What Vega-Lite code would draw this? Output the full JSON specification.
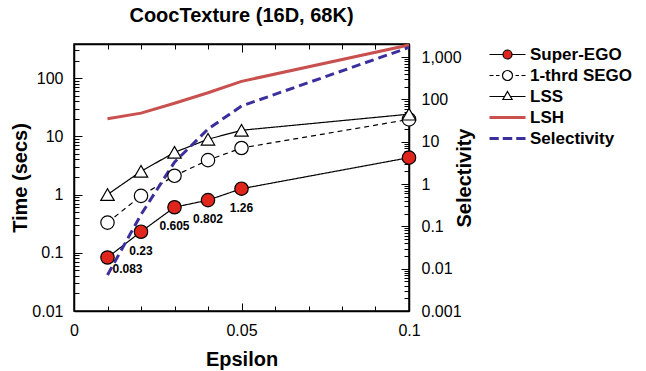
{
  "$schema": "https://vega.github.io/schema/vega-lite/v6.json",
  "width": 335,
  "height": 267,
  "autosize": {"type": "none"},
  "padding": {"left": 74, "top": 44, "right": 237, "bottom": 60},
  "background": "white",
  "config": {
    "view": {"stroke": "black", "strokeWidth": 1.5},
    "font": "Liberation Sans",
    "title": {"font": "Liberation Sans", "fontSize": 20, "fontWeight": "bold", "color": "black"},
    "axis": {"domainColor": "black", "domainWidth": 1.5, "tickColor": "black", "labelColor": "black", "titleColor": "black", "labelFont": "Liberation Sans", "titleFont": "Liberation Sans", "labelFontSize": 16, "titleFontSize": 20, "titleFontWeight": "bold", "grid": false, "labelOverlap": false, "labelFlush": false, "labelBound": false}
  },
  "title": {"text": "CoocTexture (16D, 68K)", "font": "Liberation Sans", "fontSize": 20, "fontWeight": "bold", "anchor": "middle", "offset": 10, "color": "black"},
  "datasets": {
    "time": [
      {"series": "Super-EGO", "eps": 0.01, "value": 0.083},
      {"series": "Super-EGO", "eps": 0.02, "value": 0.23},
      {"series": "Super-EGO", "eps": 0.03, "value": 0.605},
      {"series": "Super-EGO", "eps": 0.04, "value": 0.802},
      {"series": "Super-EGO", "eps": 0.05, "value": 1.26},
      {"series": "Super-EGO", "eps": 0.1, "value": 4.3},
      {"series": "1-thrd SEGO", "eps": 0.01, "value": 0.33},
      {"series": "1-thrd SEGO", "eps": 0.02, "value": 0.95},
      {"series": "1-thrd SEGO", "eps": 0.03, "value": 2.1},
      {"series": "1-thrd SEGO", "eps": 0.04, "value": 3.9},
      {"series": "1-thrd SEGO", "eps": 0.05, "value": 6.3},
      {"series": "1-thrd SEGO", "eps": 0.1, "value": 19.5},
      {"series": "LSS", "eps": 0.01, "value": 1.0},
      {"series": "LSS", "eps": 0.02, "value": 2.5},
      {"series": "LSS", "eps": 0.03, "value": 5.3},
      {"series": "LSS", "eps": 0.04, "value": 8.9},
      {"series": "LSS", "eps": 0.05, "value": 12.7},
      {"series": "LSS", "eps": 0.1, "value": 24},
      {"series": "LSH", "eps": 0.01, "value": 20},
      {"series": "LSH", "eps": 0.02, "value": 25},
      {"series": "LSH", "eps": 0.03, "value": 37},
      {"series": "LSH", "eps": 0.04, "value": 56},
      {"series": "LSH", "eps": 0.05, "value": 88},
      {"series": "LSH", "eps": 0.1, "value": 370}
    ],
    "sel": [
      {"series": "Selectivity", "eps": 0.01, "value": 0.0071},
      {"series": "Selectivity", "eps": 0.02, "value": 0.19},
      {"series": "Selectivity", "eps": 0.03, "value": 3.3},
      {"series": "Selectivity", "eps": 0.04, "value": 20},
      {"series": "Selectivity", "eps": 0.05, "value": 70},
      {"series": "Selectivity", "eps": 0.1, "value": 1700}
    ]
  },
  "resolve": {"scale": {"y": "independent"}, "axis": {"x": "independent", "y": "independent"}},
  "layer": [
    {
      "data": {"name": "time"},
      "transform": [{"filter": {"field": "series", "oneOf": ["Super-EGO", "1-thrd SEGO", "LSS"]}}],
      "mark": {"type": "line", "strokeWidth": 1.2},
      "encoding": {
        "x": {"field": "eps", "type": "quantitative", "scale": {"domain": [0, 0.1], "nice": false, "zero": false},
          "axis": {"orient": "bottom", "title": "Epsilon", "values": [0, 0.01, 0.02, 0.03, 0.04, 0.05, 0.06, 0.07, 0.08, 0.09, 0.1],
            "labelExpr": "abs(datum.value*20 - round(datum.value*20)) < 0.000001 ? format(datum.value, '~g') : ''",
            "tickSize": {"condition": {"test": "abs(datum.value*20 - round(datum.value*20)) < 0.000001", "value": -8}, "value": -5},
            "labelPadding": 19, "titlePadding": 8}},
        "y": {"field": "value", "type": "quantitative", "scale": {"type": "log", "domain": [0.01, 385], "nice": false},
          "axis": {"orient": "left", "title": "Time (secs)",
            "values": [0.01,0.02,0.03,0.04,0.05,0.06,0.07,0.08,0.09,0.1,0.2,0.3,0.4,0.5,0.6,0.7,0.8,0.9,1,2,3,4,5,6,7,8,9,10,20,30,40,50,60,70,80,90,100,200,300],
            "labelExpr": "abs(log(datum.value)/LN10 - round(log(datum.value)/LN10)) < 0.000001 ? format(datum.value, '~g') : ''",
            "tickSize": {"condition": {"test": "abs(log(datum.value)/LN10 - round(log(datum.value)/LN10)) < 0.000001", "value": -8}, "value": -5},
            "labelPadding": 19, "titlePadding": 1}},
        "stroke": {"field": "series", "type": "nominal",
          "scale": {"domain": ["Super-EGO", "1-thrd SEGO", "LSS", "LSH", "Selectivity"], "range": ["#000000", "#000000", "#000000", "#c8504e", "#3b2f9e"]},
          "legend": {"orient": "none", "legendX": 425, "legendY": 2, "title": null, "padding": 0,
            "labelFont": "Liberation Sans", "labelFontSize": 17, "labelFontWeight": "bold", "labelColor": "black", "labelLimit": 300,
            "symbolSize": 100, "labelOffset": 14, "rowPadding": 3,
            "encode": {"symbols": {"update": {
              "shape": {"signal": "datum.value === 'Super-EGO' ? 'M-3.6,0L-0.9,0M0.9,0L3.6,0M-0.9,0A0.9,0.9,0,1,1,0.9,0A0.9,0.9,0,1,1,-0.9,0Z' : datum.value === '1-thrd SEGO' ? 'M-3.6,0L-2.8,0M-2.3,0L-1.6,0M1.6,0L2.3,0M2.8,0L3.6,0M-1,0A1,1,0,1,1,1,0A1,1,0,1,1,-1,0Z' : datum.value === 'LSS' ? 'M-3.6,0L-0.56,0M0.56,0L3.6,0M0,-1L0.92,0.6L-0.92,0.6Z' : datum.value === 'LSH' ? 'M-3.6,0L3.6,0' : 'M-3.6,0L-1.75,0M-0.95,0L0.95,0M1.75,0L3.6,0'"},
              "fill": {"signal": "datum.value === 'Super-EGO' ? '#e0261c' : (datum.value === 'LSH' || datum.value === 'Selectivity') ? 'transparent' : 'white'"},
              "strokeWidth": {"signal": "(datum.value === 'LSH' || datum.value === 'Selectivity') ? 3 : 1.2"},
              "opacity": {"value": 1}
            }}}}},
        "strokeDash": {"field": "series", "type": "nominal", "scale": {"domain": ["Super-EGO", "1-thrd SEGO", "LSS"], "range": [[1, 0], [5, 4], [1, 0]]}, "legend": null}
      }
    },
    {
      "data": {"name": "time"},
      "transform": [{"filter": {"field": "series", "equal": "LSH"}}],
      "mark": {"type": "line", "strokeWidth": 3},
      "encoding": {
        "x": {"field": "eps", "type": "quantitative", "axis": null},
        "y": {"field": "value", "type": "quantitative", "scale": {"type": "log", "domain": [0.01, 385], "nice": false}, "axis": null},
        "stroke": {"field": "series", "type": "nominal"}
      }
    },
    {
      "data": {"name": "sel"},
      "mark": {"type": "line", "strokeDash": [9, 5], "strokeWidth": 3},
      "encoding": {
        "x": {"field": "eps", "type": "quantitative",
          "axis": {"orient": "top", "title": null, "labels": false, "values": [0, 0.01, 0.02, 0.03, 0.04, 0.05, 0.06, 0.07, 0.08, 0.09, 0.1],
            "tickSize": {"condition": {"test": "abs(datum.value*20 - round(datum.value*20)) < 0.000001", "value": -8}, "value": -5}}},
        "y": {"field": "value", "type": "quantitative", "scale": {"type": "log", "domain": [0.001, 2050], "nice": false},
          "axis": {"orient": "right", "title": "Selectivity", "titleAngle": 270, "titleBaseline": "top",
            "values": [0.001,0.002,0.003,0.004,0.005,0.006,0.007,0.008,0.009,0.01,0.02,0.03,0.04,0.05,0.06,0.07,0.08,0.09,0.1,0.2,0.3,0.4,0.5,0.6,0.7,0.8,0.9,1,2,3,4,5,6,7,8,9,10,20,30,40,50,60,70,80,90,100,200,300,400,500,600,700,800,900,1000,2000],
            "labelExpr": "abs(log(datum.value)/LN10 - round(log(datum.value)/LN10)) < 0.000001 ? format(datum.value, ',~g') : ''",
            "tickSize": {"condition": {"test": "abs(log(datum.value)/LN10 - round(log(datum.value)/LN10)) < 0.000001", "value": -8}, "value": -5},
            "labelPadding": 20, "titlePadding": -7}},
        "stroke": {"field": "series", "type": "nominal"}
      }
    },
    {
      "data": {"name": "time"},
      "transform": [{"filter": {"field": "series", "oneOf": ["Super-EGO", "1-thrd SEGO", "LSS"]}}],
      "mark": {"type": "point", "filled": true, "opacity": 1, "stroke": "black", "strokeWidth": 1.2, "size": 180},
      "encoding": {
        "x": {"field": "eps", "type": "quantitative", "axis": null},
        "y": {"field": "value", "type": "quantitative", "scale": {"type": "log", "domain": [0.01, 385], "nice": false}, "axis": null},
        "shape": {"field": "series", "type": "nominal", "scale": {"domain": ["Super-EGO", "1-thrd SEGO", "LSS"], "range": ["circle", "circle", "triangle-up"]}, "legend": null},
        "fill": {"field": "series", "type": "nominal", "scale": {"domain": ["Super-EGO", "1-thrd SEGO", "LSS"], "range": ["#e0261c", "#ffffff", "#ffffff"]}, "legend": null}
      }
    },
    {
      "data": {"name": "time"},
      "transform": [{"filter": "datum.series === 'Super-EGO' && datum.eps > 0.015 && datum.eps < 0.055"}],
      "mark": {"type": "text", "font": "Liberation Sans", "fontSize": 12, "fontWeight": "bold", "color": "black", "dy": 19},
      "encoding": {
        "x": {"field": "eps", "type": "quantitative", "axis": null},
        "y": {"field": "value", "type": "quantitative", "scale": {"type": "log", "domain": [0.01, 385], "nice": false}, "axis": null},
        "text": {"field": "value", "type": "quantitative", "format": "~g"}
      }
    },
    {
      "data": {"name": "time"},
      "transform": [{"filter": "datum.series === 'Super-EGO' && datum.eps < 0.015"}],
      "mark": {"type": "text", "font": "Liberation Sans", "fontSize": 12, "fontWeight": "bold", "color": "black", "dx": 20, "dy": 12},
      "encoding": {
        "x": {"field": "eps", "type": "quantitative", "axis": null},
        "y": {"field": "value", "type": "quantitative", "scale": {"type": "log", "domain": [0.01, 385], "nice": false}, "axis": null},
        "text": {"field": "value", "type": "quantitative", "format": "~g"}
      }
    }
  ]
}
